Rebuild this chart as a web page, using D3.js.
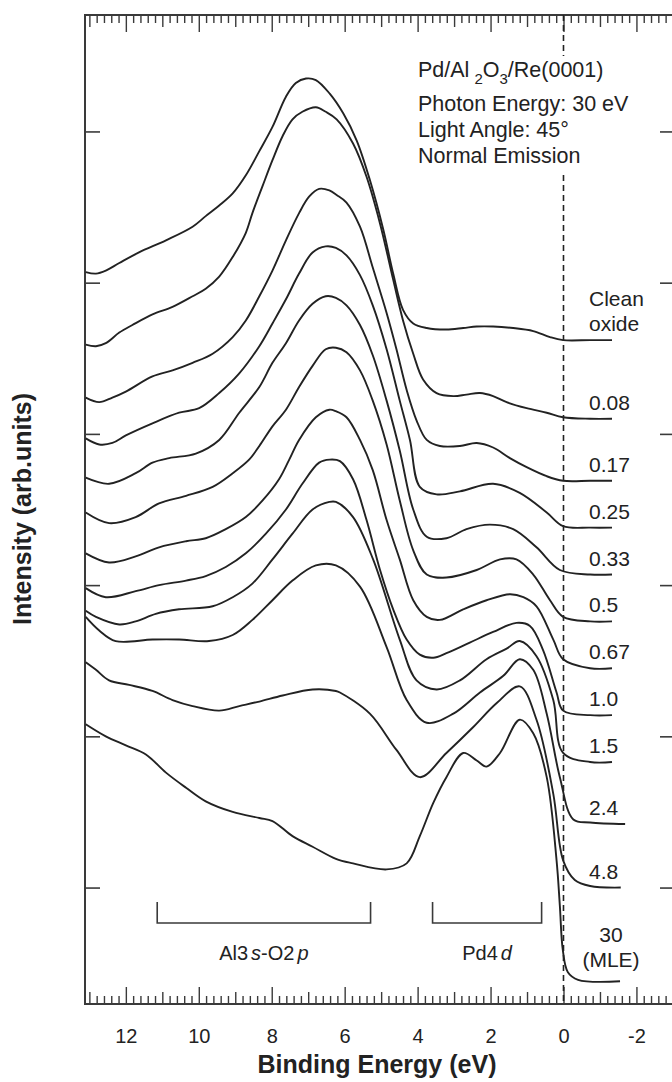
<!DOCTYPE html>
<html>
<head>
<meta charset="utf-8">
<script src="https://cdn.jsdelivr.net/npm/d3@7"></script>
<style>
  html, body { margin: 0; padding: 0; background: #fff; }
  svg { display: block; font-family: "Liberation Sans", Arial, Helvetica, sans-serif; }
</style>
</head>
<body>
<svg id="chart" width="672" height="1082"></svg>
<script>
// Photoemission spectra of Pd on Al2O3/Re(0001): [binding energy (eV), intensity (arb. units)]
const cleanOxide = [[13.10,407],[12.82,406],[12.55,408],[12.18,413],[11.64,420],[10.90,428],[10.17,437],[9.81,444],[9.44,451],[9.07,459],[8.71,471],[8.34,487],[7.98,503],[7.61,523],[7.34,532],[7.06,535],[6.79,534],[6.41,525],[6.04,512],[5.67,494],[5.31,468],[4.94,435],[4.67,406],[4.40,382],[4.12,373],[3.75,370],[3.21,369],[2.75,370],[2.38,371],[1.93,371],[1.38,370],[0.83,368],[0.37,364],[0.01,362],[-0.73,362],[-1.33,362]];
const pd008 = [[13.10,359],[12.82,358],[12.55,360],[12.18,367],[11.82,372],[11.27,379],[10.72,384],[10.17,391],[9.81,396],[9.44,404],[9.07,417],[8.71,433],[8.53,446],[8.25,464],[7.98,481],[7.70,497],[7.43,508],[7.16,513],[6.79,516],[6.52,513],[6.22,508],[5.77,492],[5.40,470],[5.03,439],[4.67,402],[4.40,375],[4.12,353],[3.85,336],[3.48,327],[3.02,325],[2.66,326],[2.29,327],[1.93,325],[1.56,321],[1.01,317],[0.46,314],[0.01,311],[-0.73,310],[-1.33,310]];
const pd017 = [[13.10,324],[12.73,321],[12.37,324],[12.00,328],[11.27,338],[10.72,342],[10.17,347],[9.62,353],[9.07,364],[8.71,375],[8.34,391],[7.98,408],[7.61,428],[7.25,446],[6.97,457],[6.70,462],[6.42,461],[6.22,458],[5.95,453],[5.58,437],[5.23,410],[4.85,380],[4.58,356],[4.30,329],[4.03,309],[3.75,296],[3.39,292],[2.84,292],[2.38,294],[1.93,291],[1.47,284],[1.01,278],[0.46,272],[0.01,269],[-0.73,269],[-1.33,269]];
const pd025 = [[13.10,297],[12.73,293],[12.37,294],[12.00,299],[11.27,307],[10.54,314],[9.99,317],[9.44,327],[8.89,340],[8.34,358],[7.98,373],[7.61,389],[7.25,406],[6.88,420],[6.52,424],[6.24,423],[5.95,418],[5.58,405],[5.23,385],[4.85,356],[4.49,322],[4.21,296],[3.94,265],[3.48,260],[2.84,262],[1.93,267],[1.20,261],[0.46,248],[0.01,239],[-0.73,238],[-1.33,238]];
const pd033 = [[13.10,271],[12.46,267],[11.73,274],[11.27,281],[10.81,284],[10.08,287],[9.44,296],[8.89,314],[8.34,331],[7.98,347],[7.61,360],[7.25,375],[6.88,386],[6.52,391],[6.24,390],[5.95,385],[5.58,372],[5.23,352],[4.85,322],[4.49,289],[4.12,250],[3.75,232],[3.21,231],[2.66,237],[2.02,240],[1.38,237],[0.74,225],[0.10,210],[-0.73,207],[-1.33,207]];
const pd05 = [[13.10,248],[12.46,241],[11.73,245],[11.09,254],[10.35,259],[9.62,265],[9.07,274],[8.62,283],[8.34,292],[7.98,305],[7.61,316],[7.25,331],[6.88,345],[6.52,356],[6.24,357],[5.95,354],[5.58,342],[5.23,322],[4.85,293],[4.49,256],[4.12,223],[3.75,207],[3.21,205],[2.38,210],[1.74,217],[1.29,217],[0.83,207],[0.37,190],[0.01,179],[-0.73,176],[-1.33,176]];
const pd067 = [[13.10,221],[12.46,215],[11.73,219],[11.09,225],[10.35,229],[9.81,231],[9.26,237],[8.71,245],[8.25,256],[7.80,270],[7.52,283],[7.25,296],[6.79,311],[6.42,316],[6.24,315],[5.95,311],[5.58,296],[5.23,276],[4.85,243],[4.49,217],[4.12,190],[3.75,179],[3.39,177],[2.75,184],[2.11,190],[1.47,194],[1.10,192],[0.74,186],[0.28,164],[0.01,151],[-0.73,145],[-1.33,145]];
const pd10 = [[13.10,198],[12.55,192],[11.73,196],[11.09,200],[10.35,203],[9.81,206],[9.26,212],[8.71,221],[8.16,234],[7.61,250],[7.16,267],[6.70,281],[6.41,283],[6.13,282],[5.77,270],[5.40,243],[5.03,210],[4.67,184],[4.30,164],[3.94,154],[3.57,152],[3.21,155],[2.57,162],[1.93,169],[1.29,175],[0.92,173],[0.56,157],[0.19,129],[0.01,117],[-0.73,114],[-1.33,114]];
const pd15 = [[13.10,183],[12.82,179],[12.18,174],[11.73,176],[11.18,181],[10.54,184],[9.62,186],[9.07,192],[8.53,201],[7.98,217],[7.43,234],[6.88,250],[6.42,255],[6.24,255],[5.77,245],[5.22,217],[4.49,164],[4.03,137],[3.48,131],[2.84,137],[2.11,151],[1.56,158],[1.20,163],[0.74,153],[0.28,124],[0.01,89],[-0.73,83],[-1.33,83]];
const pd24 = [[13.10,179],[12.73,170],[12.28,163],[11.27,164],[10.54,164],[9.72,163],[9.07,167],[8.53,177],[7.98,190],[7.43,203],[6.79,213],[6.24,213],[5.58,199],[4.85,159],[4.30,124],[3.75,109],[3.02,115],[2.29,129],[1.65,140],[1.20,151],[0.83,144],[0.46,115],[0.10,73],[-0.27,45],[-0.73,43],[-1.69,42]];
const pd48 = [[13.10,149],[12.82,144],[12.46,137],[11.91,134],[11.27,130],[10.72,124],[10.17,120],[9.44,117],[8.89,120],[8.34,123],[7.70,127],[6.88,131],[6.24,130],[6.13,129],[5.31,115],[4.58,91],[3.94,73],[3.21,89],[2.48,106],[1.83,122],[1.20,133],[0.74,111],[0.28,62],[0.01,18],[-0.31,5],[-0.73,1],[-1.57,0]];
const pd30 = [[13.10,108],[12.55,100],[12.00,94],[11.45,88],[10.90,76],[10.35,66],[9.81,57],[9.07,50],[8.34,46],[7.98,44],[7.43,34],[6.88,27],[6.24,19],[5.77,16],[4.85,12],[4.30,16],[3.94,34],[3.57,56],[3.21,73],[2.75,89],[2.38,84],[2.11,80],[1.74,89],[1.20,111],[0.83,102],[0.46,73],[0.19,18],[0.10,-12],[0.02,-41],[-0.12,-56],[-0.40,-61],[-1.55,-62]];

const spectra = [cleanOxide, pd008, pd017, pd025, pd033, pd05, pd067, pd10, pd15, pd24, pd48, pd30];
// Pd coverage (MLE) for each spectrum, top to bottom
const coverageLabels = [["Clean", "oxide"], ["0.08"], ["0.17"], ["0.25"], ["0.33"], ["0.5"], ["0.67"], ["1.0"], ["1.5"], ["2.4"], ["4.8"], ["30", "(MLE)"]];

const energyTicks = [12, 10, 8, 6, 4, 2, 0, -2];
const intensityTicks = [0, 100, 200, 300, 400, 500];
// Energy ranges of the valence features
const bands = [
  { parts: [["Al3", false], ["s", true], ["-O2", false], ["p", true]], from: 11.14, to: 5.29 },
  { parts: [["Pd4", false], ["d", true]], from: 3.59, to: 0.60 }
];
const infoLines = ["Photon Energy: 30 eV", "Light Angle: 45\u00b0", "Normal Emission"];

const svg = d3.select("#chart");
const frame = { left: 85, right: 674, top: 15, bottom: 1004 };
const ink = "#222";
const axisInk = "#3a3a3a";

const x = d3.scaleLinear().domain([13.12, -3.03]).range([frame.left, frame.right]);
const y = d3.scaleLinear().domain([-77, 577]).range([frame.bottom, frame.top]);

// ruler ticks: minor every 0.2 eV, medium every 1 eV, major every 2 eV
const minorTicks = d3.range(-30, 132, 2).map(d => d / 10).filter(d => Math.round(d * 10) % 10 !== 0);
const mediumTicks = d3.range(-3, 14).filter(d => d % 2 !== 0);
const majorTicks = d3.range(-2, 14, 2);

function ruler(axisFn, ypos, sign) {
  [[minorTicks, 8], [mediumTicks, 12], [majorTicks, 17]].forEach(([vals, len]) => {
    const g = svg.append("g")
      .attr("transform", `translate(0,${ypos})`)
      .call(axisFn(x).tickValues(vals).tickSize(sign * len).tickFormat(""));
    g.select(".domain").remove();
    g.selectAll(".tick line").attr("stroke", axisInk).attr("stroke-width", 1.4);
  });
}
ruler(d3.axisBottom, frame.bottom, -1);
ruler(d3.axisTop, frame.top, -1);

// energy labels
const xl = svg.append("g")
  .attr("transform", `translate(0,${frame.bottom})`)
  .call(d3.axisBottom(x).tickValues(energyTicks).tickSize(0).tickPadding(25).tickFormat(d => String(d)));
xl.select(".domain").remove();
xl.selectAll("text").attr("font-size", 20).attr("fill", ink)
  .attr("font-family", "'Liberation Sans', Arial, sans-serif");

// intensity ticks on both sides
const yl = svg.append("g").attr("transform", `translate(${frame.left},0)`)
  .call(d3.axisLeft(y).tickValues(intensityTicks).tickSize(-15).tickFormat(""));
yl.select(".domain").remove();
yl.selectAll(".tick line").attr("stroke", axisInk).attr("stroke-width", 1.6);
const yr = svg.append("g").attr("transform", `translate(${frame.right},0)`)
  .call(d3.axisRight(y).tickValues(intensityTicks).tickSize(-14).tickFormat(""));
yr.select(".domain").remove();
yr.selectAll(".tick line").attr("stroke", axisInk).attr("stroke-width", 1.6);

// frame
svg.append("rect")
  .attr("x", frame.left).attr("y", frame.top)
  .attr("width", frame.right - frame.left).attr("height", frame.bottom - frame.top)
  .attr("fill", "none").attr("stroke", axisInk).attr("stroke-width", 2);

// Fermi level
svg.append("line")
  .attr("x1", x(0)).attr("x2", x(0))
  .attr("y1", frame.top).attr("y2", frame.bottom)
  .attr("stroke", ink).attr("stroke-width", 1.6).attr("stroke-dasharray", "6,4");

// spectra
const line = d3.line().x(d => x(d[0])).y(d => y(d[1])).curve(d3.curveCatmullRom.alpha(0.5));
svg.append("g").selectAll("path").data(spectra).join("path")
  .attr("d", line)
  .attr("fill", "none").attr("stroke", ink).attr("stroke-width", 1.9)
  .attr("stroke-linejoin", "round");

// coverage labels above each spectrum's tail
const labelG = svg.append("g").attr("font-size", 21).attr("fill", ink);
spectra.forEach((s, i) => {
  const lines = coverageLabels[i];
  const tailY = y(s[s.length - 1][1]);
  const last = lines.length - 1;
  const centered = i === spectra.length - 1;
  const offset = centered ? 14 : 9;
  lines.forEach((t, j) => {
    labelG.append("text")
      .attr("x", centered ? 611 : 589)
      .attr("y", tailY - offset - (last - j) * 25.5)
      .attr("text-anchor", centered ? "middle" : "start")
      .text(t);
  });
});

// band brackets
const bandG = svg.append("g");
bands.forEach(b => {
  const x0 = x(b.from), x1 = x(b.to);
  bandG.append("path")
    .attr("d", `M${x0},902V923H${x1}V902`)
    .attr("fill", "none").attr("stroke", axisInk).attr("stroke-width", 1.6);
  const t = bandG.append("text")
    .attr("x", (x0 + x1) / 2).attr("y", 960)
    .attr("text-anchor", "middle").attr("font-size", 20).attr("fill", ink);
  b.parts.forEach(([txt, it]) => {
    const ts = t.append("tspan").text(txt);
    if (it) ts.attr("font-style", "italic").attr("dx", 3);
  });
});

// experiment description
svg.append("rect").attr("x", 412).attr("y", 56).attr("width", 240).attr("height", 116).attr("fill", "#fff");
const info = svg.append("g").attr("font-size", 21.5).attr("fill", ink);
const title = info.append("text").attr("x", 418).attr("y", 77);
title.append("tspan").text("Pd/Al");
title.append("tspan").attr("dx", 5).attr("dy", 7).attr("font-size", 15).text("2");
title.append("tspan").attr("dy", -7).text("O");
title.append("tspan").attr("dy", 7).attr("font-size", 15).text("3");
title.append("tspan").attr("dy", -7).text("/Re(0001)");
infoLines.forEach((t, i) => {
  info.append("text").attr("x", 418).attr("y", 111 + i * 26).text(t);
});

// axis titles
svg.append("text")
  .attr("x", 377).attr("y", 1073)
  .attr("text-anchor", "middle").attr("font-size", 25).attr("font-weight", "bold").attr("fill", ink)
  .text("Binding Energy (eV)");
svg.append("text")
  .attr("transform", "translate(31,509) rotate(-90)")
  .attr("text-anchor", "middle").attr("font-size", 25).attr("font-weight", "bold").attr("fill", ink)
  .text("Intensity (arb.units)");
</script>
</body>
</html>
